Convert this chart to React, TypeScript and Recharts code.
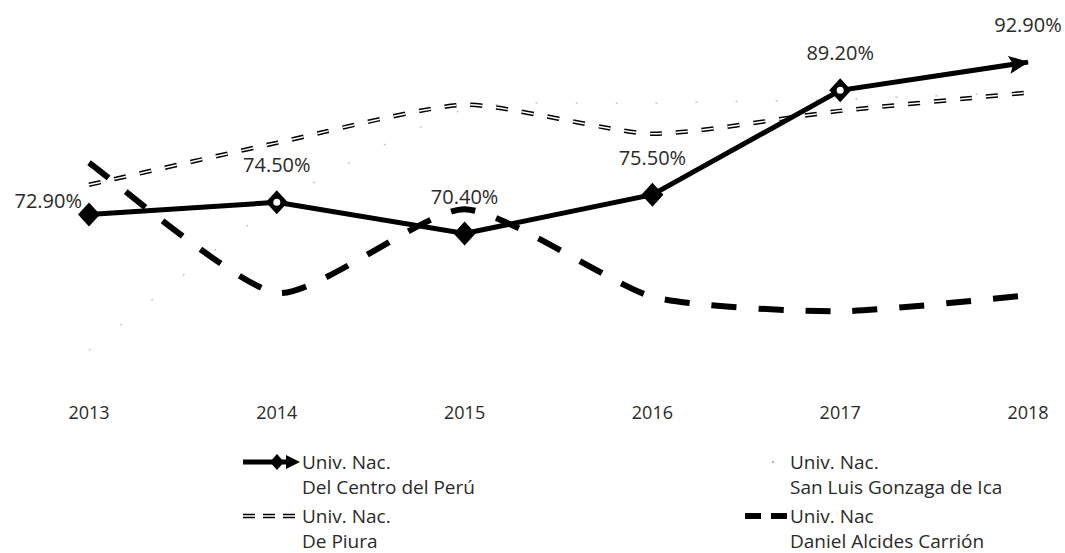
import React from 'react';
import { LineChart, Line, XAxis, YAxis, Legend, LabelList } from 'recharts';

const years = ['2013', '2014', '2015', '2016', '2017', '2018'];
const centro = [72.9, 74.5, 70.4, 75.5, 89.2, 92.9];
const piura = [76.8, 82.3, 87.3, 83.5, 86.5, 88.9];
const ica = [55.1, 74.2, 86.7, 87.5, 88.0, 89.0];
const carrion = [79.7, 62.6, 73.6, 62.1, 60.2, 62.3];

const legendCentro = ['Univ. Nac.', 'Del Centro del Perú'];
const legendIca = ['Univ. Nac.', 'San Luis Gonzaga de Ica'];
const legendPiura = ['Univ. Nac.', 'De Piura'];
const legendCarrion = ['Univ. Nac', 'Daniel Alcides Carrión'];

const data = years.map((y, i) => ({
  year: y,
  centro: centro[i],
  piura: piura[i],
  ica: ica[i],
  carrion: carrion[i],
}));

const FONT = '"Open Sans", sans-serif';
const TEXT = '#2a2a2a';

// Cardinal-style smoothing with some tension (like a spreadsheet "smoothed line")
const TENSION_K = 0.6;
class SmoothCurve {
  ctx: any;
  pts: [number, number][] = [];
  constructor(ctx: any) {
    this.ctx = ctx;
  }
  areaStart() {}
  areaEnd() {}
  lineStart() {
    this.pts = [];
  }
  point(x: number, y: number) {
    this.pts.push([+x, +y]);
  }
  lineEnd() {
    const p = this.pts;
    const n = p.length;
    if (n === 0) return;
    this.ctx.moveTo(p[0][0], p[0][1]);
    if (n === 1) return;
    for (let i = 0; i < n - 1; i++) {
      const p0 = p[i - 1] || p[i];
      const p1 = p[i];
      const p2 = p[i + 1];
      const p3 = p[i + 2] || p[i + 1];
      const k = TENSION_K / 6;
      const c1x = p1[0] + (p2[0] - p0[0]) * k;
      const c1y = p1[1] + (p2[1] - p0[1]) * k;
      const c2x = p2[0] - (p3[0] - p1[0]) * k;
      const c2y = p2[1] - (p3[1] - p1[1]) * k;
      this.ctx.bezierCurveTo(c1x, c1y, c2x, c2y, p2[0], p2[1]);
    }
  }
}
const smoothFactory: any = (ctx: any) => new SmoothCurve(ctx);

const CentroDot = (props: any) => {
  const { cx, cy, index } = props;
  if (index === years.length - 1) return <g key={`d${index}`} />;
  const hollow = index === 1 || index === 4;
  return (
    <g key={`d${index}`}>
      <path d={`M${cx},${cy - 12} L${cx + 11},${cy} L${cx},${cy + 12} L${cx - 11},${cy} Z`} fill="#000" />
      {hollow && <circle cx={cx} cy={cy} r={3.5} fill="#fff" />}
    </g>
  );
};

const CentroLabel = (props: any) => {
  const { x, y, index, value } = props;
  const txt = `${Number(value).toFixed(2)}%`;
  if (index === 0) {
    return (
      <text x={x - 7} y={y - 7} textAnchor="end" fontFamily={FONT} fontSize={20} fill={TEXT}>
        {txt}
      </text>
    );
  }
  return (
    <text x={x} y={y - 30} textAnchor="middle" fontFamily={FONT} fontSize={20} fill={TEXT}>
      {txt}
    </text>
  );
};

const YearTick = (props: any) => {
  const { x, y, payload } = props;
  return (
    <text x={x} y={y} dy={30} textAnchor="middle" fontFamily={FONT} fontSize={18} fill={TEXT}>
      {payload.value}
    </text>
  );
};

const LegendEntry = ({ left, top, lines }: { left: number; top: number; lines: string[] }) => (
  <div style={{ position: 'absolute', left, top, lineHeight: '25px', whiteSpace: 'nowrap' }}>
    {lines.map((l, i) => (
      <div key={i}>{l}</div>
    ))}
  </div>
);

const LegendContent = () => (
  <div
    style={{
      position: 'relative',
      width: 1065,
      height: 128,
      fontFamily: FONT,
      fontSize: 19,
      color: TEXT,
    }}
  >
    <svg style={{ position: 'absolute', left: 0, top: 0 }} width={1065} height={128}>
      <line x1={243} y1={37} x2={288} y2={37} stroke="#000" strokeWidth={5} />
      <path d="M277,29 L284,37 L277,45 L270,37 Z" fill="#000" />
      <path d="M286,30 L300,37 L286,44 Z" fill="#000" />
      <line x1={243} y1={91} x2={300} y2={91} stroke="#000" strokeWidth={4.5} strokeDasharray="12 8" />
      <line x1={243} y1={91} x2={300} y2={91} stroke="#fff" strokeWidth={1.5} strokeDasharray="12 8" />
      <circle cx={773} cy={37} r={1} fill="#999" />
      <line x1={745} y1={91} x2={788} y2={91} stroke="#000" strokeWidth={6} strokeDasharray="16 10" />
    </svg>
    <LegendEntry left={302} top={24.5} lines={legendCentro} />
    <LegendEntry left={302} top={78.5} lines={legendPiura} />
    <LegendEntry left={790} top={24.5} lines={legendIca} />
    <LegendEntry left={790} top={78.5} lines={legendCarrion} />
  </div>
);

export default function App() {
  return (
    <div style={{ position: 'absolute', left: 0, top: 0, width: 1065, height: 553, background: '#fff' }}>
      <svg width={0} height={0} style={{ position: 'absolute' }}>
        <defs>
          <marker
            id="arrowEnd"
            markerUnits="userSpaceOnUse"
            markerWidth={22}
            markerHeight={22}
            viewBox="0 0 22 22"
            refX={19}
            refY={11}
            orient="auto"
          >
            <path d="M0,2 L20,11 L0,20 L4,11 Z" fill="#000" />
          </marker>
        </defs>
      </svg>
      <LineChart
        width={1065}
        height={553}
        data={data}
        margin={{ top: 8, right: 37, bottom: 0, left: 89 }}
      >
        <XAxis
          dataKey="year"
          axisLine={false}
          tickLine={false}
          tickSize={0}
          tickMargin={0}
          height={36}
          interval={0}
          tick={<YearTick />}
          padding={{ left: 0, right: 0 }}
        />
        <YAxis hide domain={[50, 100]} />
        <Legend
          verticalAlign="bottom"
          height={128}
          wrapperStyle={{ left: 0, bottom: 0, width: 1065 }}
          content={<LegendContent />}
        />
        <Line
          dataKey="ica"
          type={smoothFactory}
          stroke="#c8c8c8"
          strokeWidth={1.5}
          strokeDasharray="2 38"
          dot={false}
          activeDot={false}
          isAnimationActive={false}
        />
        <Line
          dataKey="piura"
          type={smoothFactory}
          stroke="#000"
          strokeWidth={4.5}
          strokeDasharray="12 14"
          dot={false}
          activeDot={false}
          isAnimationActive={false}
        />
        <Line
          dataKey="piura"
          type={smoothFactory}
          stroke="#fff"
          strokeWidth={1.5}
          strokeDasharray="12 14"
          dot={false}
          activeDot={false}
          legendType="none"
          isAnimationActive={false}
        />
        <Line
          dataKey="carrion"
          type={smoothFactory}
          stroke="#000"
          strokeWidth={6}
          strokeDasharray="25 22"
          dot={false}
          activeDot={false}
          isAnimationActive={false}
        />
        <Line
          dataKey="centro"
          type="linear"
          stroke="#000"
          strokeWidth={5}
          markerEnd="url(#arrowEnd)"
          dot={<CentroDot />}
          activeDot={false}
          isAnimationActive={false}
        >
          <LabelList dataKey="centro" content={<CentroLabel />} />
        </Line>
      </LineChart>
    </div>
  );
}
